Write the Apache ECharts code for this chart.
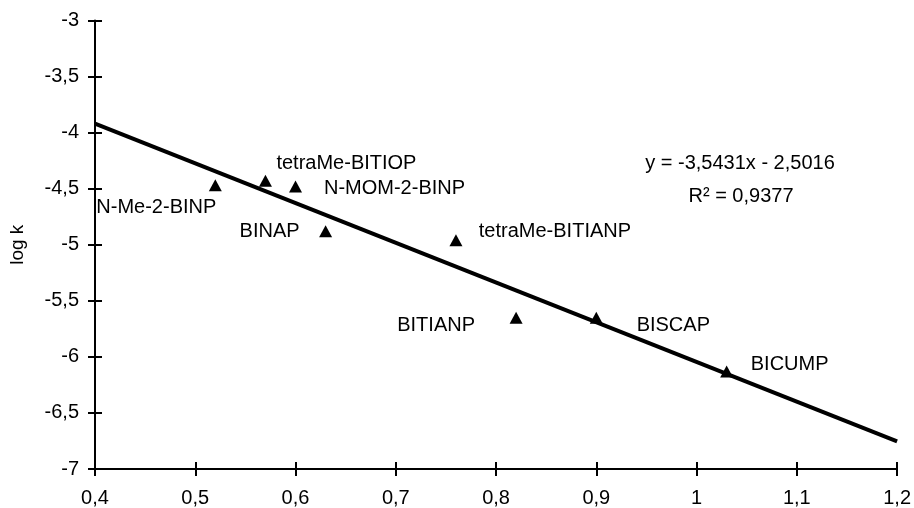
<!DOCTYPE html>
<html>
<head>
<meta charset="utf-8">
<script src="https://cdn.jsdelivr.net/npm/echarts@6/dist/echarts.min.js"></script>
<style>html,body{margin:0;padding:0;background:#fff}#c{width:914px;height:508px}</style>
</head>
<body>
<div id="c"></div>
<script>
// ---- data ----
var compounds = ['N-Me-2-BINP','tetraMe-BITIOP','N-MOM-2-BINP','BINAP','tetraMe-BITIANP','BITIANP','BISCAP','BICUMP'];
var xValues = [0.52, 0.57, 0.60, 0.63, 0.76, 0.82, 0.90, 1.03];
var logK    = [-4.47, -4.43, -4.48, -4.88, -4.96, -5.65, -5.65, -6.13];
var xTickLabels = ['0,4','0,5','0,6','0,7','0,8','0,9','1','1,1','1,2'];
var yTickLabels = ['-7','-6,5','-6','-5,5','-5','-4,5','-4','-3,5','-3'];
var trendSlope = -3.5431, trendIntercept = -2.5016;
var trendX = [0.4, 1.2];
var equationText = ['y = -3,5431x - 2,5016', 'R² = 0,9377'];

// ---- layout (label offsets relative to each marker) ----
var labelOffsets = [[-59,22],[81,-17],[99,2],[-56,0],[99,-9],[-80,8],[77,8],[63,-7]];

var FONT = '"Liberation Sans", Arial, sans-serif';
var scatterData = compounds.map(function(n,i){
  return {value:[xValues[i], logK[i]], name:n,
    label:{show:true, position:'inside', offset:labelOffsets[i], formatter:n,
      color:'#000', fontSize:20, fontFamily:FONT, textBorderWidth:0}};
});
var trendData = trendX.map(function(x){ return [x, trendSlope*x + trendIntercept]; });

var axisLineStyle = {color:'#000', width:2};
var chart = echarts.init(document.getElementById('c'), null, {renderer:'canvas'});
chart.setOption({
  animation:false,
  backgroundColor:'#fff',
  grid:{left:93.5, right:14.5, top:20.5, bottom:39, containLabel:false},
  xAxis:[{
    type:'value', min:0.4, max:1.2, interval:0.1,
    axisLine:{show:true, onZero:false, lineStyle:axisLineStyle},
    axisTick:{show:true, length:7, lineStyle:axisLineStyle},
    splitLine:{show:false},
    axisLabel:{color:'#000', fontSize:20, fontFamily:FONT, margin:19,
      formatter:function(v,i){ return xTickLabels[i]; }}
  },{
    type:'value', min:0.4, max:1.2, interval:0.1, position:'bottom',
    axisLine:{show:false}, axisTick:{show:true, inside:true, length:7, lineStyle:axisLineStyle},
    axisLabel:{show:false}, splitLine:{show:false}
  }],
  yAxis:[{
    type:'value', min:-7, max:-3, interval:0.5,
    name:'log k', nameLocation:'middle', nameGap:68, nameRotate:90,
    nameTextStyle:{color:'#000', fontSize:19, fontFamily:FONT},
    axisLine:{show:true, onZero:false, lineStyle:axisLineStyle},
    axisTick:{show:true, length:7, lineStyle:axisLineStyle},
    splitLine:{show:false},
    axisLabel:{color:'#000', fontSize:20, fontFamily:FONT, margin:16,
      formatter:function(v,i){ return yTickLabels[i]; }}
  },{
    type:'value', min:-7, max:-3, interval:0.5, position:'left',
    axisLine:{show:false}, axisTick:{show:true, inside:true, length:7, lineStyle:axisLineStyle},
    axisLabel:{show:false}, splitLine:{show:false}
  }],
  series:[{
    type:'line', data:trendData, showSymbol:false, symbol:'none',
    lineStyle:{color:'#000', width:4}, z:2, silent:true
  },{
    type:'scatter', data:scatterData, symbol:'triangle', symbolSize:[13,12],
    itemStyle:{color:'#000', opacity:1}, z:3
  }],
  graphic:[{
    type:'text', x:740, y:163,
    style:{text:equationText[0], fill:'#000', font:'20px ' + FONT, textAlign:'center', textVerticalAlign:'middle'}
  },{
    type:'text', x:741, y:196,
    style:{text:equationText[1], fill:'#000', font:'20px ' + FONT, textAlign:'center', textVerticalAlign:'middle'}
  }]
});
</script>
</body>
</html>
